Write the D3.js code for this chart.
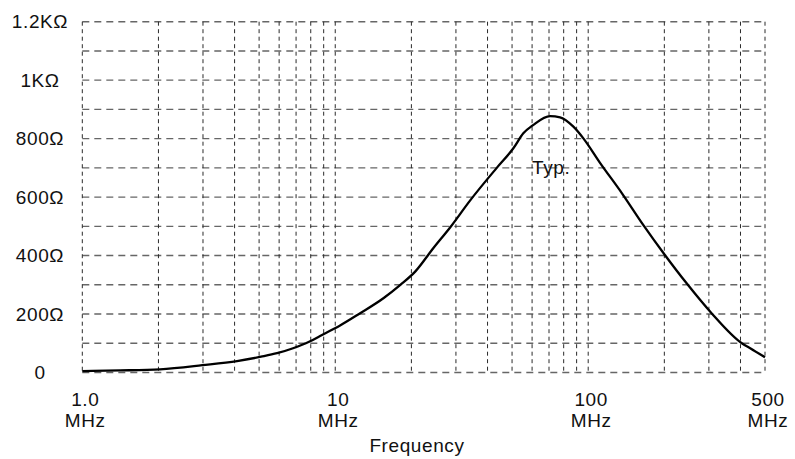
<!DOCTYPE html>
<html>
<head>
<meta charset="utf-8">
<script src="https://cdn.jsdelivr.net/npm/d3@7"></script>
<style>
  html, body { margin: 0; padding: 0; background: #fff; }
  svg text { font-family: "Liberation Sans", Arial, Helvetica, sans-serif; fill: #111; letter-spacing: 0.6px; }
</style>
</head>
<body>
<svg id="chart" width="795" height="459"></svg>
<script>
// ---- data ----
const freqMHz = [1.0, 1.41, 2.03, 2.98, 4.09, 5.09, 5.89, 6.81, 7.88, 8.71, 9.8, 10.45, 12.5, 15.5, 18.04, 20.7, 24.4, 28.5, 34.1, 43.5, 50.6, 55.4, 60.7, 70.7, 77.4, 87.4, 95.7, 111, 136, 165, 201, 245, 308, 405, 437, 500];
const impedance = [5, 7, 11, 25, 39, 54, 66, 83, 105, 125, 148, 161, 202, 254, 299, 345, 425, 497, 588, 700, 767, 818, 847, 877, 873, 841, 801, 719, 613, 505, 402, 305, 202, 100, 83, 52];

const xTickValues = [1, 10, 100, 500];
const xTickLabels = ["1.0", "10", "100", "500"];
const xUnit = "MHz";
const yTickValues = [0, 200, 400, 600, 800, 1000, 1200];
const yTickLabels = ["0", "200Ω", "400Ω", "600Ω", "800Ω", "1KΩ", "1.2KΩ"];
const xGridValues = [1,2,3,4,5,6,7,8,9,10,20,30,40,50,60,70,80,90,100,200,300,400,500];
const yGridValues = d3.range(0, 1201, 100);
const xTitle = "Frequency";
const annotation = { text: "Typ.", f: 60, v: 680 };

// ---- layout ----
const svg = d3.select("#chart");
const mLeft = 82.3, mRight = 765, mTop = 21.7, mBottom = 372.5;

const x = d3.scaleLog().domain([1, 500]).range([mLeft, mRight]);
const y = d3.scaleLinear().domain([0, 1200]).range([mBottom, mTop]);

// horizontal grid
svg.append("g").selectAll("line").data(yGridValues).join("line")
  .attr("x1", mLeft).attr("x2", mRight)
  .attr("y1", d => y(d)).attr("y2", d => y(d))
  .attr("stroke", "#666").attr("stroke-width", 1.4)
  .attr("stroke-dasharray", "7,5");

// vertical grid
svg.append("g").selectAll("line").data(xGridValues).join("line")
  .attr("x1", d => x(d)).attr("x2", d => x(d))
  .attr("y1", mTop).attr("y2", mBottom)
  .attr("stroke", "#2a2a2a").attr("stroke-width", 1)
  .attr("stroke-dasharray", "4,3.5");

// y labels
svg.append("g").selectAll("text").data(yTickValues).join("text")
  .attr("x", 40).attr("y", d => y(d) + 6.5)
  .attr("text-anchor", "middle")
  .attr("font-size", 19)
  .text((d, i) => yTickLabels[i]);

// x labels
const xl = svg.append("g").selectAll("g").data(xTickValues).join("g");
xl.append("text")
  .attr("x", d => x(d) + 3).attr("y", 405.5)
  .attr("text-anchor", "middle").attr("font-size", 19)
  .text((d, i) => xTickLabels[i]);
xl.append("text")
  .attr("x", d => x(d) + 3).attr("y", 426.7)
  .attr("text-anchor", "middle").attr("font-size", 19)
  .text(xUnit);

svg.append("text")
  .attr("x", 417).attr("y", 451.7)
  .attr("text-anchor", "middle").attr("font-size", 19)
  .text(xTitle);

// curve
const pts = freqMHz.map((f, i) => [f, impedance[i]]);
svg.append("path")
  .datum(pts)
  .attr("fill", "none").attr("stroke", "#000").attr("stroke-width", 2.3)
  .attr("stroke-linejoin", "round")
  .attr("d", d3.line().x(d => x(d[0])).y(d => y(d[1])).curve(d3.curveMonotoneX));

// annotation
svg.append("text")
  .attr("x", x(annotation.f)).attr("y", y(annotation.v))
  .attr("font-size", 19)
  .text(annotation.text);
</script>
</body>
</html>
